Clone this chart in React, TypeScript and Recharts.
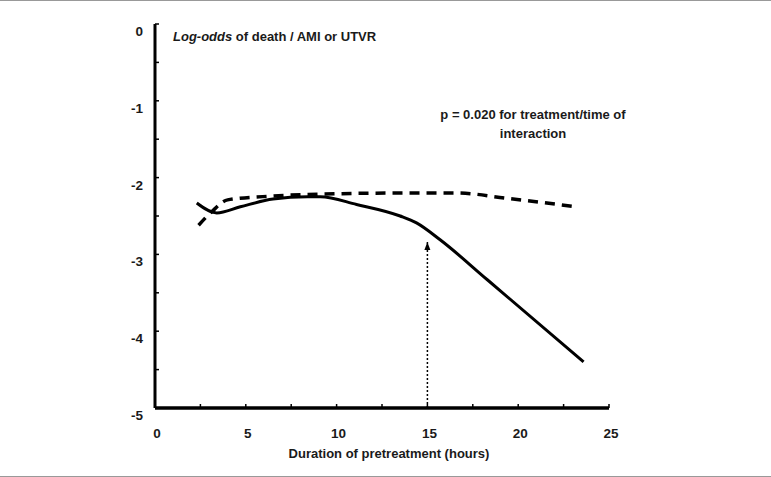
import React from 'react';
import { LineChart, Line, XAxis, YAxis } from 'recharts';

// solid curve
const solidX = [2.3, 3.4, 4.7, 6.5, 8.4, 9.1, 11.1, 13.5, 14.4, 15.7, 18.3, 23.6];
const solidY = [-2.33, -2.46, -2.38, -2.28, -2.25, -2.25, -2.35, -2.5, -2.59, -2.81, -3.33, -4.4];

// dashed curve
const dashX = [2.4, 3.1, 4.0, 6.5, 10.2, 13.9, 16.6, 19.4, 23.2];
const dashY = [-2.62, -2.45, -2.29, -2.24, -2.21, -2.2, -2.2, -2.27, -2.38];

// dotted arrow at 15 hours
const arrowX = [15, 15];
const arrowY = [-5, -2.84];

const xTicks = [0, 2.5, 5, 7.5, 10, 12.5, 15, 17.5, 20, 22.5, 25];
const yTicks = [0, -0.5, -1, -1.5, -2, -2.5, -3, -3.5, -4, -4.5, -5];

const solidData = solidX.map((x, i) => ({ x, y: solidY[i] }));
const dashData = dashX.map((x, i) => ({ x, y: dashY[i] }));
const arrowData = arrowX.map((x, i) => ({ x, y: arrowY[i] }));

const font = "'Liberation Sans Narrow', 'Arial Narrow', 'Liberation Sans', Arial, sans-serif";
const ink = '#1a1a1a';

const XTick = (props: any) => {
  const { x, y, payload } = props;
  return (
    <g>
      <line x1={x} y1={y} x2={x} y2={y - 4} stroke="#000" strokeWidth={1.5} />
      {payload.value % 5 === 0 && (
        <text x={x + 2} y={y + 30} textAnchor="middle" fontFamily={font} fontWeight="bold" fontSize={13.5} fill={ink}>
          {payload.value}
        </text>
      )}
    </g>
  );
};

const YTick = (props: any) => {
  const { x, y, payload } = props;
  return (
    <g>
      <line x1={x} y1={y} x2={x + 4} y2={y} stroke="#000" strokeWidth={1.5} />
      {payload.value % 1 === 0 && (
        <text x={x - 12} y={y + 12} textAnchor="end" fontFamily={font} fontWeight="bold" fontSize={13.5} fill={ink}>
          {payload.value}
        </text>
      )}
    </g>
  );
};

const ArrowHead = (props: any) => {
  const { cx, cy, index } = props;
  if (index !== 1) return <g key={index} />;
  return <path key={index} d={`M${cx},${cy} L${cx - 3},${cy + 8} L${cx + 3},${cy + 8} Z`} fill="#000" />;
};

export default function App() {
  return (
    <div
      style={{
        position: 'absolute',
        left: 0,
        top: 0,
        width: 771,
        height: 477,
        background: '#fff',
        borderTop: '1px solid #999',
        borderBottom: '1px solid #999',
        boxSizing: 'border-box',
      }}
    >
      <div style={{ position: 'absolute', left: 0, top: -1 }}>
        <LineChart width={771} height={477} margin={{ top: 24, right: 162, bottom: 19, left: 115 }}>
          <XAxis
            type="number"
            dataKey="x"
            domain={[0, 25]}
            ticks={xTicks}
            interval={0}
            tickSize={0}
            tickMargin={0}
            tick={<XTick />}
            height={50}
            axisLine={{ stroke: '#000', strokeWidth: 3.5 }}
            label={{
              value: 'Duration of pretreatment (hours)',
              position: 'insideBottom',
              offset: 0,
              dx: 7,
              style: { fontFamily: font, fontWeight: 'bold', fontSize: 13, fill: ink },
            }}
          />
          <YAxis
            type="number"
            dataKey="y"
            domain={[-5, 0]}
            ticks={yTicks}
            interval={0}
            tickSize={0}
            tickMargin={0}
            tick={<YTick />}
            width={40}
            axisLine={{ stroke: '#000', strokeWidth: 3 }}
          />
          <Line
            data={arrowData}
            dataKey="y"
            type="linear"
            stroke="#000"
            strokeWidth={1.5}
            strokeDasharray="2 2"
            dot={<ArrowHead />}
            activeDot={false}
            isAnimationActive={false}
          />
          <Line
            data={dashData}
            dataKey="y"
            type="monotone"
            stroke="#000"
            strokeWidth={3.5}
            strokeDasharray="10 7"
            dot={false}
            activeDot={false}
            isAnimationActive={false}
          />
          <Line
            data={solidData}
            dataKey="y"
            type="monotone"
            stroke="#000"
            strokeWidth={3}
            dot={false}
            activeDot={false}
            isAnimationActive={false}
          />
        </LineChart>
      </div>
      <div
        style={{
          position: 'absolute',
          left: 173,
          top: 28,
          fontFamily: font,
          fontWeight: 'bold',
          fontSize: 13,
          lineHeight: '16px',
          color: ink,
          whiteSpace: 'nowrap',
        }}
      >
        <i>Log-odds</i> of death / AMI or UTVR
      </div>
      <div
        style={{
          position: 'absolute',
          left: 433,
          top: 104,
          width: 200,
          textAlign: 'center',
          fontFamily: font,
          fontWeight: 'bold',
          fontSize: 13,
          lineHeight: '19px',
          color: ink,
        }}
      >
        p = 0.020 for treatment/time of
        <br />
        interaction
      </div>
    </div>
  );
}
